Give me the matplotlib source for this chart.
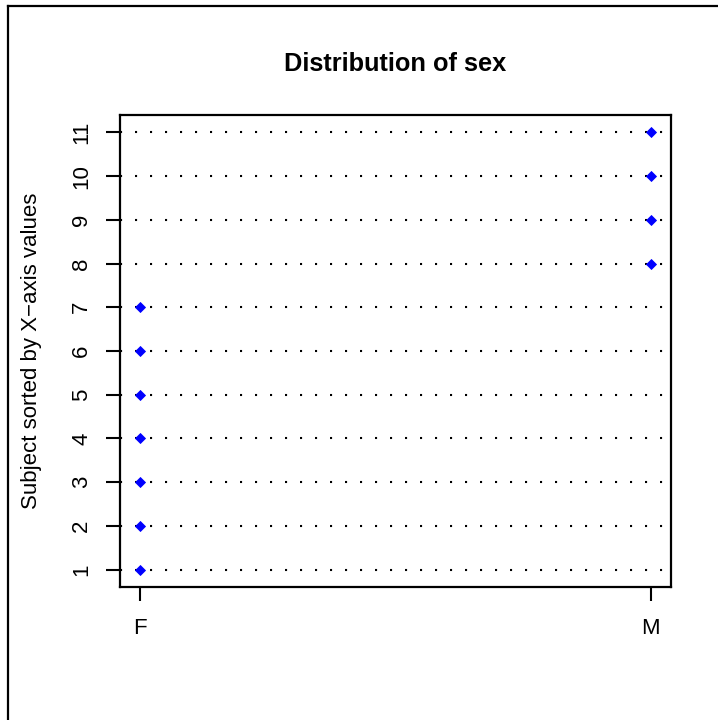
import matplotlib
matplotlib.use("Agg")
import matplotlib.pyplot as plt
from matplotlib.lines import Line2D

plt.rcParams['font.family'] = ['Liberation Sans', 'DejaVu Sans']

# data: one subject per row, sorted by sex
subjects = list(range(1, 12))
sex = ['F', 'F', 'F', 'F', 'F', 'F', 'F', 'M', 'M', 'M', 'M']
categories = ['F', 'M']

xpos = [categories.index(s) + 1 for s in sex]

fig = plt.figure(figsize=(7.18, 7.2), dpi=100)
ax = fig.add_axes([120 / 718, 1 - 587 / 720, 551 / 718, 472 / 720])

# dotted guide lines
for y in subjects:
    ax.axhline(y, color='black', lw=1.5, linestyle=(0, (1, 6.2)), zorder=1)

ax.plot(xpos, subjects, linestyle='none', marker='D', ms=5.4,
        color='blue', mec='blue', mew=0.6, zorder=3)

ax.set_xlim(0.96, 2.04)
ax.set_ylim(0.6, 11.4)
ax.set_xticks([1, 2])
ax.set_xticklabels(categories)
ax.set_yticks(subjects)
ax.set_yticklabels([str(s) for s in subjects], rotation=90, va='center')

ax.tick_params(axis='both', direction='out', length=10, width=1.5,
               labelsize=16, color='black')
ax.tick_params(axis='y', pad=10)
ax.tick_params(axis='x', pad=12)
for sp in ax.spines.values():
    sp.set_linewidth(1.6)

ax.set_title('Distribution of sex', fontsize=18.3, fontweight='bold', pad=32)
ax.set_ylabel('Subject sorted by X\u2212axis values', fontsize=16)
ax.yaxis.set_label_coords(-0.142, 0.5)

# outer frame (only left/top edges fall inside the image)
fig.add_artist(Line2D([8 / 718, 8 / 718], [0, 1 - 6 / 720],
                      transform=fig.transFigure, color='black', lw=1.6))
fig.add_artist(Line2D([8 / 718, 1], [1 - 6 / 720, 1 - 6 / 720],
                      transform=fig.transFigure, color='black', lw=1.6))

fig.savefig('out.png', dpi=100, facecolor='white')
